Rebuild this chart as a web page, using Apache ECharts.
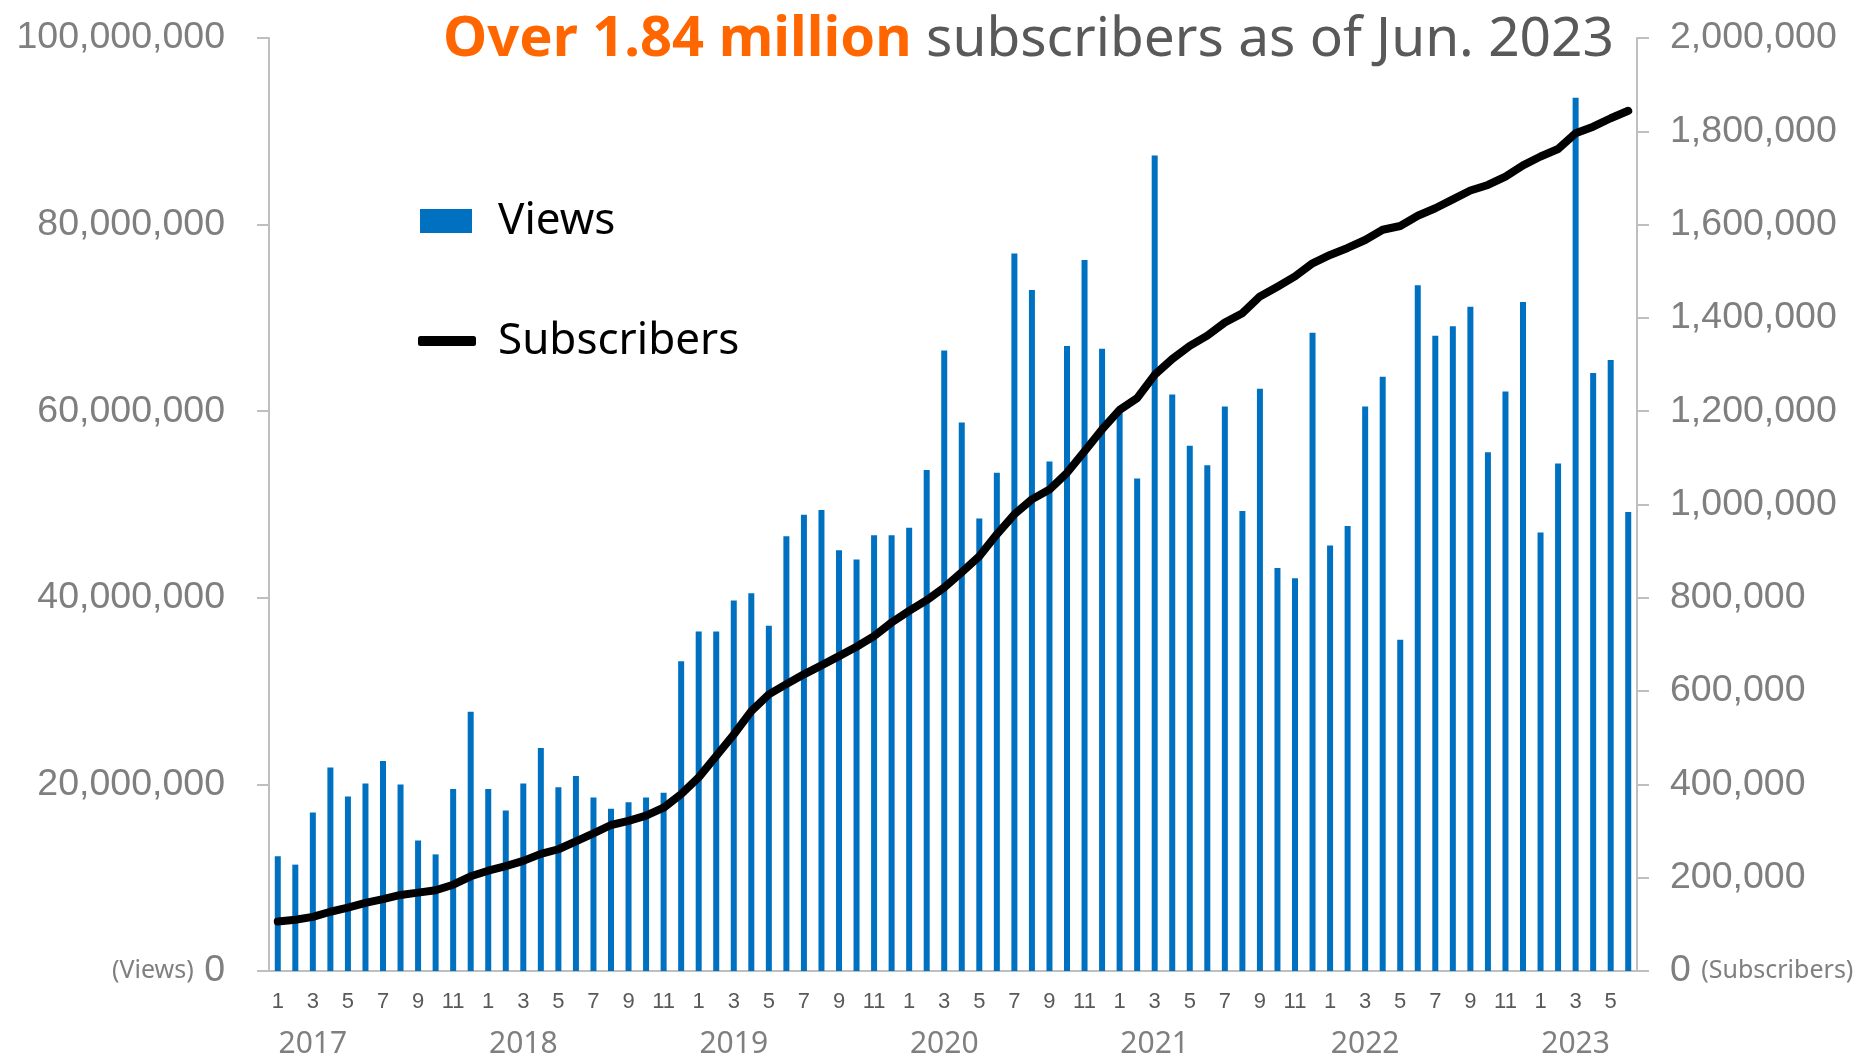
<!DOCTYPE html>
<html>
<head>
<meta charset="utf-8">
<script src="https://cdn.jsdelivr.net/npm/echarts@6/dist/echarts.min.js"></script>
<style>
html,body{margin:0;padding:0;background:#fff;}
#chart{width:1860px;height:1059px;}
</style>
</head>
<body>
<div id="chart"></div>
<script>
// Categories: year-month
const categories = [
 '2017-1','2017-2','2017-3','2017-4','2017-5','2017-6','2017-7','2017-8','2017-9','2017-10','2017-11','2017-12',
 '2018-1','2018-2','2018-3','2018-4','2018-5','2018-6','2018-7','2018-8','2018-9','2018-10','2018-11','2018-12',
 '2019-1','2019-2','2019-3','2019-4','2019-5','2019-6','2019-7','2019-8','2019-9','2019-10','2019-11','2019-12',
 '2020-1','2020-2','2020-3','2020-4','2020-5','2020-6','2020-7','2020-8','2020-9','2020-10','2020-11','2020-12',
 '2021-1','2021-2','2021-3','2021-4','2021-5','2021-6','2021-7','2021-8','2021-9','2021-10','2021-11','2021-12',
 '2022-1','2022-2','2022-3','2022-4','2022-5','2022-6','2022-7','2022-8','2022-9','2022-10','2022-11','2022-12',
 '2023-1','2023-2','2023-3','2023-4','2023-5','2023-6'
];

// Monthly views
const views = [
 12300000,11400000,17000000,21800000,18700000,20100000,22500000,20000000,14000000,12500000,19500000,27800000,
 19500000,17200000,20100000,23900000,19700000,20900000,18600000,17400000,18100000,18600000,19100000,33200000,
 36400000,36400000,39700000,40500000,37000000,46600000,48900000,49400000,45100000,44100000,46700000,46700000,
 47500000,53700000,66500000,58800000,48500000,53400000,76900000,73000000,54600000,67000000,76200000,66700000,
 60000000,52800000,87400000,61800000,56300000,54200000,60500000,49300000,62400000,43200000,42100000,68400000,
 45600000,47700000,60500000,63700000,35500000,73500000,68100000,69100000,71200000,55600000,62100000,71700000,
 47000000,54400000,93600000,64100000,65500000,49200000
];

// Cumulative subscribers
const subscribers = [
 106000,110000,116000,127000,136000,146000,154000,163000,168000,173000,185000,203000,
 215000,225000,236000,251000,261000,278000,295000,313000,322000,333000,350000,379000,
 415000,461000,507000,557000,593000,615000,636000,655000,675000,695000,718000,747000,
 772000,795000,822000,855000,889000,936000,979000,1011000,1032000,1068000,1114000,1161000,
 1203000,1228000,1278000,1312000,1340000,1362000,1390000,1410000,1446000,1467000,1489000,1517000,
 1535000,1550000,1567000,1589000,1597000,1619000,1635000,1654000,1673000,1685000,1703000,1727000,
 1746000,1762000,1796000,1810000,1828000,1844000
];

const leftTicks = [0, 20000000, 40000000, 60000000, 80000000, 100000000];
const rightTicks = [0, 200000, 400000, 600000, 800000, 1000000, 1200000, 1400000, 1600000, 1800000, 2000000];
const titleHighlight = 'Over 1.84 million';
const titleRest = 'subscribers as of Jun. 2023';

const chart = echarts.init(document.getElementById('chart'), null, {renderer: 'canvas'});
const fmt = v => echarts.format.addCommas(v);
const gray = '#7F7F7F';
const axisCol = '#BFBFBF';

chart.setOption({
  animation: false,
  backgroundColor: '#fff',
  title: {
    text: '{a|' + titleHighlight + '} {b|' + titleRest + '}',
    right: 246,
    top: 9,
    padding: 0,
    textStyle: {
      fontFamily: 'Noto Sans',
      fontSize: 56,
      lineHeight: 62,
      color: '#595959',
      rich: {
        a: {fontFamily: 'Noto Sans', fontSize: 56, fontWeight: 'bold', color: '#FF6600', lineHeight: 62},
        b: {fontFamily: 'Noto Sans', fontSize: 55, fontWeight: 'normal', color: '#595959', lineHeight: 62}
      }
    }
  },
  legend: [
    {
      data: [{name: 'Views', icon: 'rect'}],
      left: 420, top: 196, padding: 0,
      itemWidth: 52, itemHeight: 24, itemGap: 0,
      textStyle: {fontFamily: 'Noto Sans', fontSize: 44, color: '#000', lineHeight: 50, padding: [0,0,0,21]}
    },
    {
      data: [{name: 'Subscribers', icon: 'roundRect'}],
      left: 418, top: 316, padding: 0,
      itemWidth: 58, itemHeight: 10, itemGap: 0,
      textStyle: {fontFamily: 'Noto Sans', fontSize: 44, color: '#000', lineHeight: 50, padding: [0,0,0,17]}
    }
  ],
  grid: {left: 269, right: 223, top: 38, bottom: 87, containLabel: false},
  xAxis: [
    {
      type: 'category',
      data: categories,
      boundaryGap: true,
      axisLine: {show: true, lineStyle: {color: axisCol, width: 2}},
      axisTick: {show: false},
      axisLabel: {
        interval: 1,
        margin: 20,
        fontFamily: 'Liberation Sans',
        fontSize: 22,
        color: '#595959',
        formatter: v => v.split('-')[1]
      }
    },
    {
      type: 'category',
      data: categories,
      position: 'bottom',
      boundaryGap: true,
      axisLine: {show: false},
      axisTick: {show: false},
      axisLabel: {
        interval: 0,
        margin: 58,
        fontFamily: 'Noto Sans',
        fontSize: 30,
        color: gray,
        formatter: v => {const p = v.split('-'); return p[1] === '3' ? p[0] : '';}
      }
    }
  ],
  yAxis: [
    {
      type: 'value',
      min: leftTicks[0],
      max: leftTicks[leftTicks.length - 1],
      interval: leftTicks[1] - leftTicks[0],
      position: 'left',
      axisLine: {show: true, lineStyle: {color: axisCol, width: 2}},
      axisTick: {show: true, inside: false, length: 12, lineStyle: {color: axisCol, width: 2}},
      splitLine: {show: false},
      axisLabel: {
        margin: 44,
        fontFamily: 'Liberation Sans',
        fontSize: 37.5,
        color: gray,
        formatter: v => v === 0 ? '{s|(Views)} 0' : fmt(v),
        rich: {s: {fontFamily: 'Noto Sans', fontSize: 25, color: gray}}
      }
    },
    {
      type: 'value',
      min: rightTicks[0],
      max: rightTicks[rightTicks.length - 1],
      interval: rightTicks[1] - rightTicks[0],
      position: 'right',
      axisLine: {show: true, lineStyle: {color: axisCol, width: 2}},
      axisTick: {show: true, inside: false, length: 12, lineStyle: {color: axisCol, width: 2}},
      splitLine: {show: false},
      axisLabel: {
        margin: 33,
        fontFamily: 'Liberation Sans',
        fontSize: 37.5,
        color: gray,
        formatter: v => v === 0 ? '0 {s|(Subscribers)}' : fmt(v),
        rich: {s: {fontFamily: 'Noto Sans', fontSize: 25, color: gray}}
      }
    }
  ],
  series: [
    {
      name: 'Views',
      type: 'bar',
      xAxisIndex: 0,
      yAxisIndex: 0,
      data: views,
      barWidth: 6,
      itemStyle: {color: '#0070C0'},
      z: 2
    },
    {
      name: 'Subscribers',
      type: 'line',
      xAxisIndex: 0,
      yAxisIndex: 1,
      data: subscribers,
      symbol: 'none',
      color: '#000',
      itemStyle: {color: '#000'},
      lineStyle: {color: '#000', width: 8, cap: 'round', join: 'round'},
      z: 3
    }
  ]
});
</script>
</body>
</html>
